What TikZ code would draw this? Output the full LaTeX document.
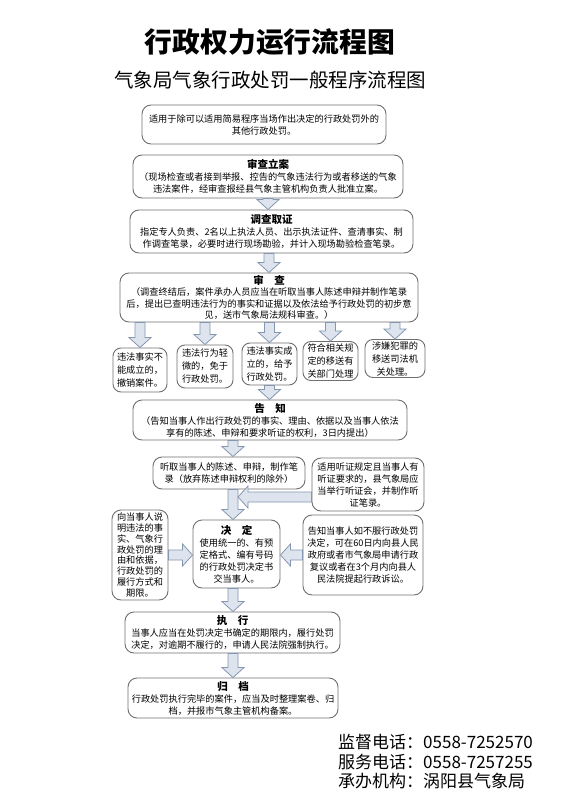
\documentclass[tikz,border=0pt]{standalone}
\usepackage{fontspec}
\setmainfont{Noto Sans CJK SC}
\usetikzlibrary{calc}
\definecolor{boxline}{HTML}{6F6F6F}
\definecolor{arrfill}{HTML}{DDE4EE}
\definecolor{arrline}{HTML}{8597B0}
\newcommand\ttl[1]{{\fontsize{10.5}{12}\selectfont\bfseries #1}}
\newcommand\darrow[2]{\draw[barrow] let \p1=#1, \p2=#2 in (\x1-5pt,\y1) -- (\x1-5pt,\y2+10pt) -- (\x1-11pt,\y2+10pt) -- (\x1,\y2) -- (\x1+11pt,\y2+10pt) -- (\x1+5pt,\y2+10pt) -- (\x1+5pt,\y1) -- cycle;}
\newcommand\larrow[2]{\draw[barrow] let \p1=#1, \p2=#2 in (\x1,\y1-5pt) -- (\x2+10pt,\y1-5pt) -- (\x2+10pt,\y1-11pt) -- (\x2,\y1) -- (\x2+10pt,\y1+11pt) -- (\x2+10pt,\y1+5pt) -- (\x1,\y1+5pt) -- cycle;}
\newcommand\rarrow[2]{\draw[barrow] let \p1=#1, \p2=#2 in (\x1,\y1-5pt) -- (\x2-10pt,\y1-5pt) -- (\x2-10pt,\y1-11pt) -- (\x2,\y1) -- (\x2-10pt,\y1+11pt) -- (\x2-10pt,\y1+5pt) -- (\x1,\y1+5pt) -- cycle;}
\tikzset{
  box/.style={draw=boxline, line width=0.9pt, rounded corners=9pt, fill=white, align=center, inner sep=0pt, font=\fontsize{9.2}{12}\selectfont},
  sbox/.style={box, rounded corners=8pt, font=\fontsize{9.2}{13}\selectfont},
  barrow/.style={fill=arrfill, draw=arrline, line width=0.8pt, line join=miter},
  foot/.style={anchor=west, inner sep=0pt, font=\fontsize{17}{20}\selectfont}
}
\begin{document}
\begin{tikzpicture}[x=1pt, y=-1pt]
\fill[white] (0,0) rectangle (572,800);
\useasboundingbox (0,0) rectangle (572,800);

\node (title) at (270,42) {\fontsize{27.8}{30}\selectfont\bfseries 行政权力运行流程图};
\node (subtitle) at (270,80) {\fontsize{19.5}{22}\selectfont 气象局气象行政处罚一般程序流程图};

\node[box, minimum width=244, minimum height=39] (b1) at (264,124.5)
  {适用于除可以适用简易程序当场作出决定的行政处罚外的\\其他行政处罚。};
\node[box, minimum width=270, minimum height=43] (b2) at (268,176.5)
  {\ttl{审查立案}\\（现场检查或者接到举报、控告的气象违法行为或者移送的气象\\违法案件，经审查报经县气象主管机构负责人批准立案。};
\node[box, minimum width=283, minimum height=43] (b3) at (271.5,231.5)
  {\ttl{调查取证}\\指定专人负责、2名以上执法人员、出示执法证件、查清事实、制\\作调查笔录，必要时进行现场勘验，并计入现场勘验检查笔录。};
\node[box, minimum width=298, minimum height=49, font=\fontsize{9.2}{11.5}\selectfont] (b4) at (269,297.5)
  {\ttl{审　查}\\（调查终结后，案件承办人员应当在听取当事人陈述申辩并制作笔录\\后，提出已查明违法行为的事实和证据以及依法给予行政处罚的初步意\\见，送市气象局法规科审查。）};

\node[sbox, minimum width=54, minimum height=44] (ra) at (140,370) {违法事实不\\能成立的，\\撤销案件。};
\node[sbox, minimum width=56, minimum height=43] (rb) at (205,366.5) {违法行为轻\\微的，免于\\行政处罚。};
\node[sbox, minimum width=55, minimum height=42] (rc) at (269.5,364) {违法事实成\\立的，给予\\行政处罚。};
\node[sbox, minimum width=55, minimum height=39] (rd) at (330.5,361) {符合相关规\\定的移送有\\关部门处理};
\node[sbox, minimum width=60, minimum height=38] (re) at (395,358.5) {涉嫌犯罪的\\移送司法机\\关处理。};

\node[box, minimum width=274, minimum height=40] (b6) at (270,420)
  {\ttl{告　知}\\（告知当事人作出行政处罚的事实、理由、依据以及当事人依法\\享有的陈述、申辩和要求听证的权利，3日内提出）};
\node[box, minimum width=152, minimum height=32] (b7) at (229,473)
  {听取当事人的陈述、申辩，制作笔\\录（放弃陈述申辩权利的除外）};
\node[box, minimum width=112, minimum height=53] (b8) at (368,484.5)
  {适用听证规定且当事人有\\听证要求的，县气象局应\\当举行听证会，并制作听\\证笔录。};
\node[box, minimum width=56, minimum height=90, font=\fontsize{9.2}{10.8}\selectfont] (b9) at (140,555)
  {向当事人说\\明违法的事\\实、气象行\\政处罚的理\\由和依据，\\行政处罚的\\履行方式和\\期限。};
\node[box, minimum width=87, minimum height=68] (b10) at (236.5,554)
  {\ttl{决　定}\\使用统一的、有预\\定格式、编有号码\\的行政处罚决定书\\交当事人。};
\node[box, minimum width=120, minimum height=80] (b11) at (363,555)
  {告知当事人如不服行政处罚\\决定，可在60日内向县人民\\政府或者市气象局申请行政\\复议或者在3个月内向县人\\民法院提起行政诉讼。};
\node[box, minimum width=215, minimum height=41] (b12) at (232.5,632.5)
  {\ttl{执　行}\\当事人应当在处罚决定书确定的期限内，履行处罚\\决定，对逾期不履行的，申请人民法院强制执行。};
\node[box, minimum width=210, minimum height=40] (b13) at (233,698)
  {\ttl{归　档}\\行政处罚执行完毕的案件，应当及时整理案卷、归\\档，并报市气象主管机构备案。};

\coordinate (col) at (233,0);
\coordinate (hj) at (238,497);

\darrow{(b2.south)}{(b3.north -| b2.south)}
\darrow{(b3.south -| b4.north)}{(b4.north)}
\darrow{(b4.south -| ra.north)}{(ra.north)}
\darrow{(b4.south -| rb.north)}{(rb.north)}
\darrow{(b4.south -| rc.north)}{(rc.north)}
\darrow{(b4.south -| rd.north)}{(rd.north)}
\darrow{(b4.south -| re.north)}{(re.north)}
\darrow{(rc.south)}{(b6.north -| rc.south)}
\darrow{(b6.south -| col)}{(b7.north -| col)}
\darrow{(b7.south -| col)}{(b10.north -| col)}
\larrow{(b8.west |- hj)}{(hj)}
\rarrow{(b9.east)}{(b10.west |- b9.east)}
\larrow{(b11.west)}{(b10.east |- b11.west)}
\darrow{(b10.south -| col)}{(b12.north -| col)}
\darrow{(b12.south -| col)}{(b13.north -| col)}

\node[foot] (f1) at (338,742) {监督电话：0558-7252570};
\node[foot] (f2) at (338,762) {服务电话：0558-7257255};
\node[foot] (f3) at (338,781) {承办机构：涡阳县气象局};
\end{tikzpicture}
\end{document}
